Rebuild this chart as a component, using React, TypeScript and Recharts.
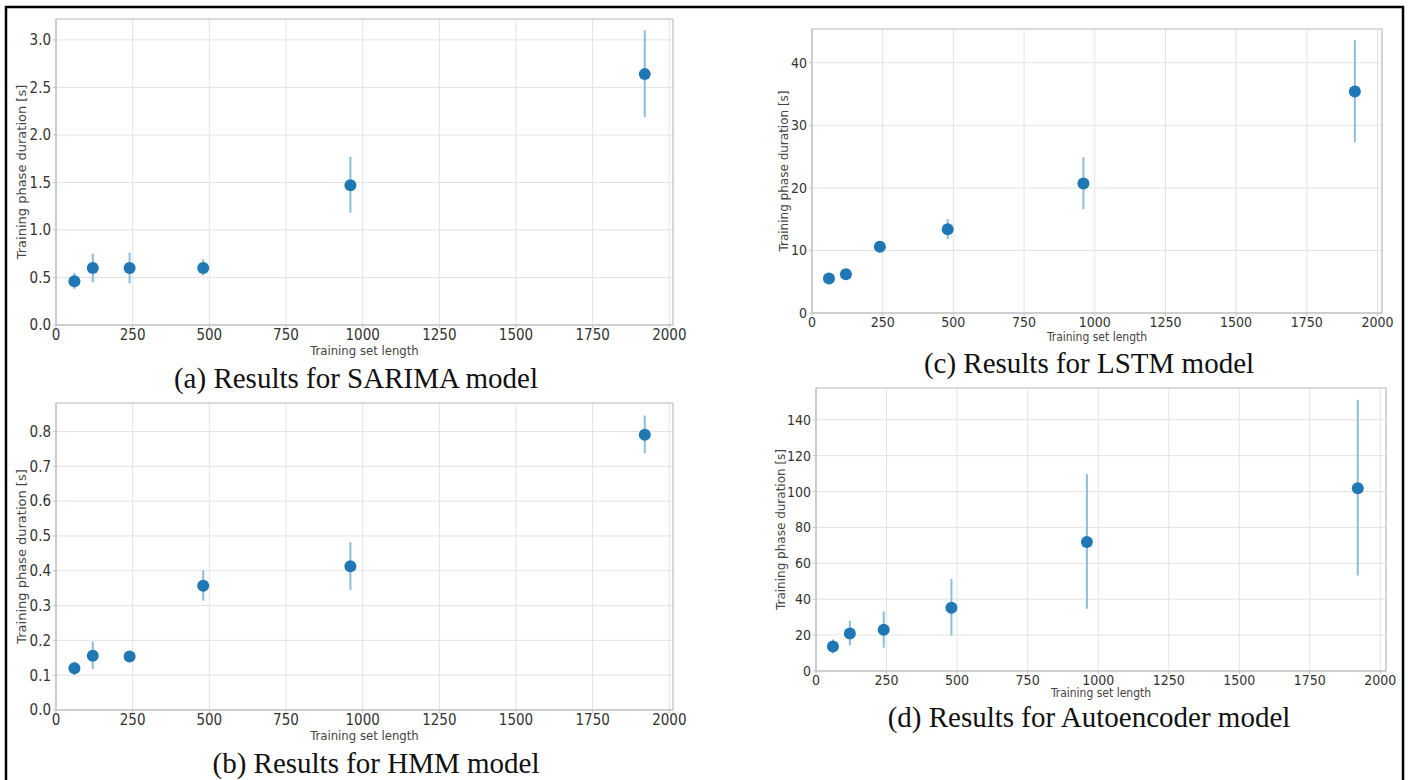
import { ScatterChart, Scatter, XAxis, YAxis, CartesianGrid, ErrorBar, ReferenceArea } from 'recharts';

// training set lengths shared by all four panels
const trainLengths = [60, 120, 240, 480, 960, 1920];
const xTicks = [0, 250, 500, 750, 1000, 1250, 1500, 1750, 2000];

// (a) SARIMA
const sarimaMean = [0.46, 0.6, 0.6, 0.6, 1.47, 2.64];
const sarimaLow = [0.38, 0.45, 0.44, 0.52, 1.18, 2.19];
const sarimaHigh = [0.55, 0.75, 0.76, 0.69, 1.77, 3.1];
const sarimaTicks = [0, 0.5, 1, 1.5, 2, 2.5, 3];

// (b) HMM
const hmmMean = [0.12, 0.156, 0.154, 0.357, 0.413, 0.791];
const hmmLow = [0.1, 0.118, 0.142, 0.314, 0.345, 0.738];
const hmmHigh = [0.139, 0.197, 0.166, 0.402, 0.482, 0.846];
const hmmTicks = [0, 0.1, 0.2, 0.3, 0.4, 0.5, 0.6, 0.7, 0.8];

// (c) LSTM
const lstmMean = [5.5, 6.2, 10.6, 13.4, 20.7, 35.4];
const lstmLow = [5.2, 5.9, 10.0, 11.8, 16.6, 27.3];
const lstmHigh = [5.8, 6.5, 11.2, 15.0, 24.9, 43.6];
const lstmTicks = [0, 10, 20, 30, 40];

// (d) Autoencoder
const aeMean = [13.7, 20.9, 23.0, 35.2, 71.9, 101.9];
const aeLow = [9.8, 14.3, 13.0, 19.8, 34.7, 53.2];
const aeHigh = [17.6, 28.0, 33.2, 51.3, 109.7, 151.1];
const aeTicks = [0, 20, 40, 60, 80, 100, 120, 140];

const DOT = '#1f77b4';
const BAR = '#8fbbdb';
const GRID = '#e3e3e3';
const FRAME = '#c4c4c4';
const TICK_FONT = '"DejaVu Sans Condensed", "DejaVu Sans", sans-serif';
const LABEL_FONT = '"DejaVu Sans", sans-serif';

type Box = { left: number; top: number; width: number; height: number };
type Plot = { L: number; R: number; T: number; B: number };

interface PanelProps {
  box: Box;
  plot: Plot;
  xMax: number;
  yMax: number;
  yTicks: number[];
  mean: number[];
  low: number[];
  high: number[];
  decimals: number;
  tickSize: number;
  labelSize: number;
  xLabelBaseline: number;
  yLabelX: number;
}

const Dot = (props: any) => <circle cx={props.cx} cy={props.cy} r={6} fill={DOT} />;

function Panel(p: PanelProps) {
  const data = trainLengths.map((x, i) => ({
    x,
    y: p.mean[i],
    err: [p.mean[i] - p.low[i], p.high[i] - p.mean[i]]
  }));
  const yAxisWidth = p.plot.L - p.box.left;
  const xAxisHeight = p.xLabelBaseline - p.plot.B;
  const margin = {
    top: p.plot.T - p.box.top,
    right: p.box.left + p.box.width - p.plot.R,
    left: 0,
    bottom: p.box.top + p.box.height - p.xLabelBaseline
  };
  const tick = { fill: '#333', fontSize: p.tickSize, fontFamily: TICK_FONT };
  return (
    <div style={{ position: 'absolute', left: p.box.left, top: p.box.top }}>
      <ScatterChart width={p.box.width} height={p.box.height} margin={margin}>
        <CartesianGrid stroke={GRID} strokeWidth={1} />
        <XAxis
          type="number"
          dataKey="x"
          domain={[0, p.xMax]}
          ticks={xTicks}
          interval={0}
          allowDataOverflow
          height={xAxisHeight}
          tick={tick}
          tickSize={3}
          tickMargin={1}
          stroke={FRAME}
          label={{ value: 'Training set length', position: 'insideBottom', offset: 0, fill: '#444', fontSize: p.labelSize, fontFamily: TICK_FONT }}
        />
        <YAxis
          type="number"
          dataKey="y"
          domain={[0, p.yMax]}
          ticks={p.yTicks}
          interval={0}
          allowDataOverflow
          width={yAxisWidth}
          tick={tick}
          tickSize={3}
          tickMargin={2}
          stroke={FRAME}
          tickFormatter={(v: number) => v.toFixed(p.decimals)}
          label={{
            value: 'Training phase duration [s]',
            angle: -90,
            position: 'insideLeft',
            offset: p.yLabelX - p.box.left,
            fill: '#444',
            fontSize: p.labelSize,
            fontFamily: LABEL_FONT,
            style: { textAnchor: 'middle' }
          }}
        />
        <ReferenceArea x1={0} x2={p.xMax} y1={0} y2={p.yMax} fill="none" stroke={FRAME} strokeWidth={1.2} />
        <Scatter data={data} dataKey="y" shape={Dot} isAnimationActive={false}>
          <ErrorBar dataKey="err" direction="y" width={0} stroke={BAR} strokeWidth={2} isAnimationActive={false} />
        </Scatter>
      </ScatterChart>
    </div>
  );
}

const captionStyle = { fontFamily: '"Liberation Serif", "Times New Roman", serif', fontSize: 29, fill: '#111' };

export default function App() {
  return (
    <div style={{ position: 'absolute', left: 0, top: 0, width: 1408, height: 780, background: '#fff', overflow: 'hidden' }}>
      <Panel
        box={{ left: 0, top: 0, width: 700, height: 360 }}
        plot={{ L: 56, R: 673, T: 19, B: 325 }}
        xMax={2012}
        yMax={3.22}
        yTicks={sarimaTicks}
        mean={sarimaMean}
        low={sarimaLow}
        high={sarimaHigh}
        decimals={1}
        tickSize={15}
        labelSize={13}
        xLabelBaseline={355}
        yLabelX={21}
      />
      <Panel
        box={{ left: 0, top: 380, width: 700, height: 380 }}
        plot={{ L: 56, R: 673, T: 403, B: 710 }}
        xMax={2012}
        yMax={0.882}
        yTicks={hmmTicks}
        mean={hmmMean}
        low={hmmLow}
        high={hmmHigh}
        decimals={1}
        tickSize={15}
        labelSize={13}
        xLabelBaseline={740}
        yLabelX={21}
      />
      <Panel
        box={{ left: 704, top: 0, width: 700, height: 360 }}
        plot={{ L: 812, R: 1382, T: 29, B: 313 }}
        xMax={2016}
        yMax={45.4}
        yTicks={lstmTicks}
        mean={lstmMean}
        low={lstmLow}
        high={lstmHigh}
        decimals={0}
        tickSize={14}
        labelSize={12}
        xLabelBaseline={341}
        yLabelX={784}
      />
      <Panel
        box={{ left: 704, top: 370, width: 700, height: 340 }}
        plot={{ L: 816, R: 1386, T: 388, B: 671 }}
        xMax={2020}
        yMax={157.7}
        yTicks={aeTicks}
        mean={aeMean}
        low={aeLow}
        high={aeHigh}
        decimals={0}
        tickSize={14}
        labelSize={12}
        xLabelBaseline={697}
        yLabelX={781}
      />
      <svg width={1408} height={780} style={{ position: 'absolute', left: 0, top: 0, pointerEvents: 'none' }}>
        <line x1={5} y1={7} x2={1404} y2={7} stroke="#000" strokeWidth={2.5} />
        <line x1={6} y1={6} x2={6} y2={780} stroke="#000" strokeWidth={2.5} />
        <line x1={1403} y1={6} x2={1403} y2={780} stroke="#000" strokeWidth={2.5} />
        <text x={356} y={388} textAnchor="middle" style={captionStyle}>(a) Results for SARIMA model</text>
        <text x={1089} y={373} textAnchor="middle" style={captionStyle}>(c) Results for LSTM model</text>
        <text x={376} y={773} textAnchor="middle" style={captionStyle}>(b) Results for HMM model</text>
        <text x={1089} y={727} textAnchor="middle" style={captionStyle}>(d) Results for Autoencoder model</text>
      </svg>
    </div>
  );
}
